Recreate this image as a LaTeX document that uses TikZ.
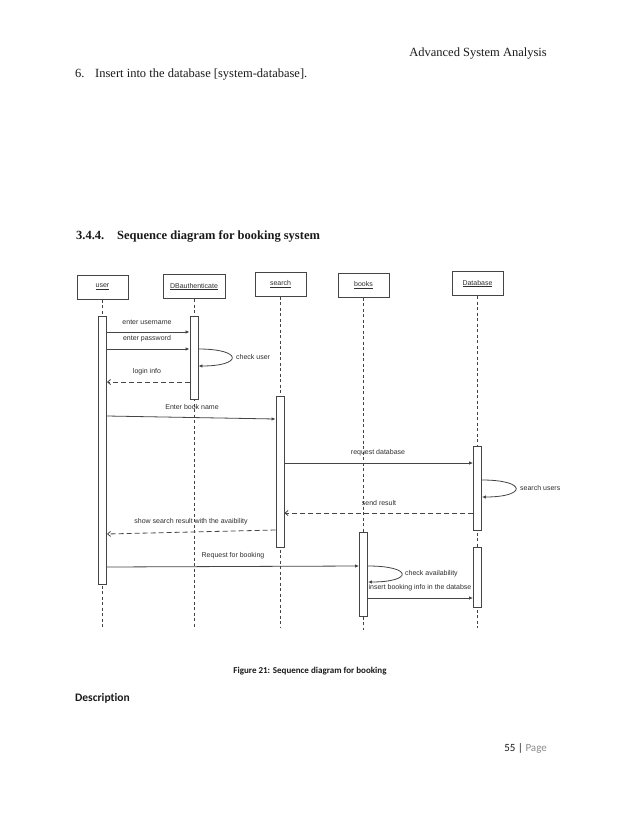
\documentclass[tikz,border=0pt]{standalone}
\usepackage{fontspec}
\setmainfont{Liberation Serif}
\newfontfamily\calibri[Ligatures=NoCommon]{Carlito}
\newfontfamily\arialfont{Liberation Sans}
\usetikzlibrary{arrows.meta}
\definecolor{ink}{HTML}{1A1A1A}
\definecolor{umlline}{HTML}{454545}
\definecolor{umltext}{HTML}{2E2E2E}
\definecolor{pagegray}{HTML}{8C8C8C}
\tikzset{
  actor/.style={rectangle,draw=umlline,line width=1pt,fill=white,minimum width=51pt,minimum height=24pt,inner sep=1pt,font=\arialfont\fontsize{7}{8}\selectfont,text=umltext},
  lifeline/.style={umlline,line width=0.9pt,dash pattern=on 3pt off 2.5pt},
  actbar/.style={rectangle,draw=umlline,line width=0.9pt,fill=white,minimum width=8pt,anchor=north,inner sep=0pt},
  msg/.style={-{Latex[length=4pt,width=3.5pt]},umlline,line width=0.8pt},
  reply/.style={-{Straight Barb[length=3pt,width=5pt]},umlline,line width=0.8pt,dash pattern=on 5pt off 3pt},
  msglabel/.style={font=\arialfont\fontsize{7}{8}\selectfont,text=umltext,inner sep=1pt},
  pagetext/.style={font=\fontsize{12.5}{15}\selectfont,text=ink,inner sep=0pt},
  wordtext/.style={font=\calibri\bfseries,text=ink,inner sep=0pt}
}

\begin{document}
\begin{tikzpicture}[x=1pt,y=-1pt]
  \useasboundingbox[fill=white] (0,0) rectangle (638,826);

  % page text
  \node[pagetext,anchor=base east] (header) at (547,57) {Advanced System Analysis};
  \node[pagetext,anchor=base west] (itemnum) at (75,78) {6.};
  \node[pagetext,anchor=base west] (itemtext) at (95,78) {Insert into the database [system-database].};
  \node[pagetext,anchor=base west,font=\fontsize{12.5}{15}\selectfont\bfseries] (secnum) at (76,239) {3.4.4.};
  \node[pagetext,anchor=base west,font=\fontsize{12.5}{15}\selectfont\bfseries] (sectitle) at (117,239) {Sequence diagram for booking system};

  % objects
  \node[actor] (user) at (102.5,287) {\underline{user}};
  \node[actor,minimum width=62pt] (dbauth) at (194,286.5) {\underline{DBauthenticate}};
  \node[actor] (search) at (280.5,284) {\underline{search}};
  \node[actor] (books) at (363.5,285) {\underline{books}};
  \node[actor] (database) at (477.5,283.5) {\underline{Database}};

  % lifelines
  \draw[lifeline] (user.south) -- (user.south |- 0,627);
  \draw[lifeline] (dbauth.south) -- (dbauth.south |- 0,627);
  \draw[lifeline] (search.south) -- (search.south |- 0,627);
  \draw[lifeline] (books.south) -- (books.south |- 0,630);
  \draw[lifeline] (database.south) -- (database.south |- 0,628);

  % activations
  \node[actbar,minimum height=268pt] (ubar) at (102.5,316) {};
  \node[actbar,minimum height=83pt] (dbbar) at (194,316) {};
  \node[actbar,minimum height=151pt] (sbar) at (280,396) {};
  \node[actbar,minimum height=84pt] (dbasebar) at (477.5,446) {};
  \node[actbar,minimum height=60pt] (dbasebartwo) at (477.5,547) {};
  \node[actbar,minimum height=84pt] (bbar) at (363.5,532) {};

  % messages
  \draw[msg] (ubar.east |- 0,332) -- (dbbar.west |- 0,332);
  \node[msglabel] (lbluser) at (147,322) {enter username};
  \draw[msg] (ubar.east |- 0,349) -- (dbbar.west |- 0,349);
  \node[msglabel] (lblpass) at (147,339) {enter password};
  \draw[msg] (dbbar.east |- 0,349) .. controls (243,349) and (243,366) .. (dbbar.east |- 0,366);
  \node[msglabel,anchor=west] (lblcheck) at (235,357) {check user};
  \draw[reply] (dbbar.west |- 0,382) -- (ubar.east |- 0,382);
  \node[msglabel] (lbllogin) at (147,372) {login info};
  \draw[msg] (ubar.east |- 0,416) -- (sbar.west |- 0,419);
  \node[msglabel] (lblbook) at (192,407) {Enter book name};
  \draw[msg] (sbar.east |- 0,463) -- (dbasebar.west |- 0,463);
  \node[msglabel] (lblreq) at (378,453) {request database};
  \draw[msg] (dbasebar.east |- 0,480) .. controls (527,480) and (527,497) .. (dbasebar.east |- 0,497);
  \node[msglabel,anchor=west] (lblsusers) at (519,488) {search users};
  \draw[reply] (dbasebar.west |- 0,513) -- (sbar.east |- 0,513);
  \node[msglabel] (lblsend) at (379,503) {send result};
  \draw[reply] (sbar.west |- 0,530) -- (ubar.east |- 0,534);
  \node[msglabel] (lblshow) at (191,522) {show search result with the avaibility};
  \draw[msg] (ubar.east |- 0,567) -- (bbar.west |- 0,566);
  \node[msglabel] (lblreqbook) at (233,556) {Request for booking};
  \draw[msg] (bbar.east |- 0,566) .. controls (413,566) and (413,582) .. (bbar.east |- 0,582);
  \node[msglabel,anchor=west] (lblavail) at (404,574) {check availability};
  \draw[msg] (bbar.east |- 0,598) -- (dbasebartwo.west |- 0,598);
  \node[msglabel] (lblinsert) at (420,588) {insert booking info in the databse};

  % caption and footer
  \node[wordtext,font=\calibri\bfseries\fontsize{9}{11}\selectfont,anchor=base] (caption) at (310,673) {Figure 21: Sequence diagram for booking};
  \node[wordtext,font=\calibri\bfseries\fontsize{11.5}{14}\selectfont,anchor=base west] (descr) at (75,701) {Description};
  \node[wordtext,font=\calibri\fontsize{11}{13}\selectfont,anchor=base east] (pagenum) at (547,751) {55 | \textcolor{pagegray}{Page}};
\end{tikzpicture}
\end{document}
